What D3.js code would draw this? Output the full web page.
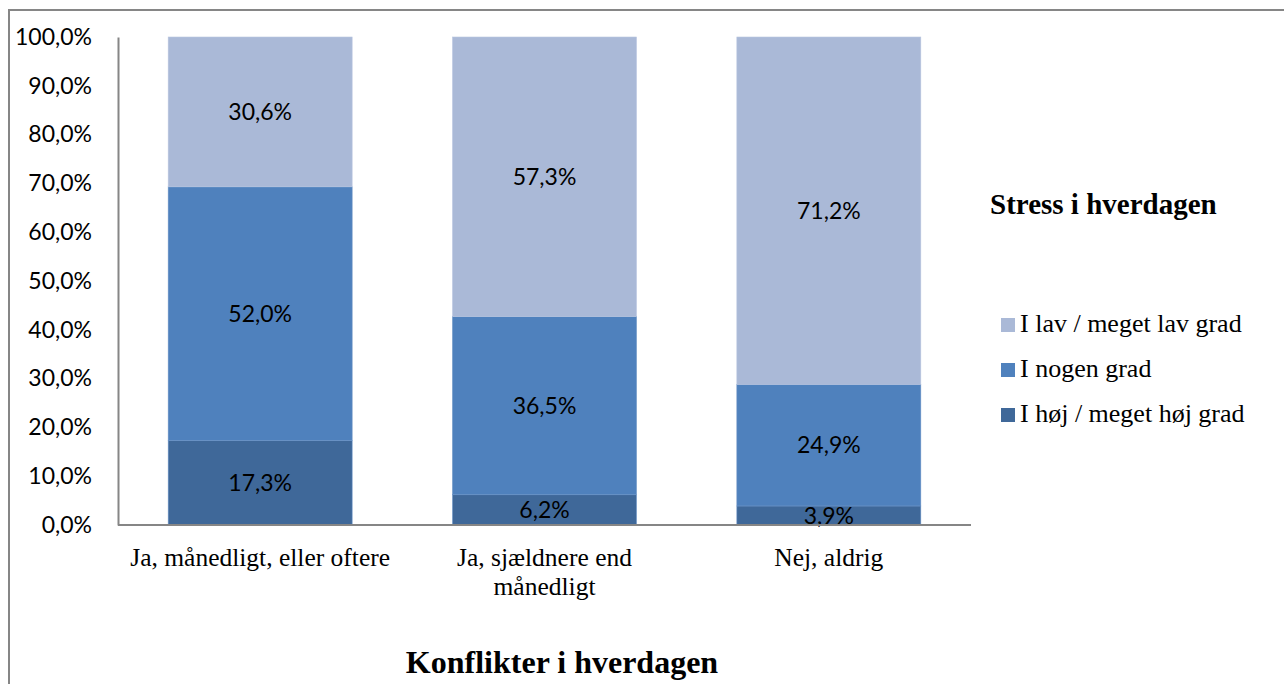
<!DOCTYPE html>
<html><head><meta charset="utf-8">
<script src="https://cdn.jsdelivr.net/npm/d3@7"></script>
<style>body{margin:0;background:#fff}svg{display:block}</style>
</head><body>
<svg id="c" width="1284" height="684"></svg>
<script>
const categories = [["Ja, månedligt, eller oftere"], ["Ja, sjældnere end", "månedligt"], ["Nej, aldrig"]];
const categoryKeys = ["Ja, månedligt, eller oftere", "Ja, sjældnere end månedligt", "Nej, aldrig"];
const seriesNames = ["I høj / meget høj grad", "I nogen grad", "I lav / meget lav grad"];
const seriesHigh = [17.3, 6.2, 3.9];
const seriesSome = [52.0, 36.5, 24.9];
const seriesLow = [30.6, 57.3, 71.2];
const seriesColors = ["#3F6899", "#4F81BD", "#AAB9D7"];
const yTicks = [0,10,20,30,40,50,60,70,80,90,100];

const keys = ["high","some","low"];
const pct = v => d3.format(".1f")(v).replace(".", ",") + "%";
const serif = "'Liberation Serif', 'Times New Roman', serif";
const sans = "Lato, 'Open Sans', sans-serif";

const svg = d3.select("#c");
svg.append("rect").attr("x",9).attr("y",10).attr("width",1300).attr("height",700)
  .attr("fill","none").attr("stroke","#868686").attr("stroke-width",2);

const x0 = 118, x1 = 971, yTop = 37, yBot = 525;
const x = d3.scaleBand().domain(categoryKeys).range([x0, x1]).paddingInner(0.353).paddingOuter(0.1765);
const y = d3.scaleLinear().domain([0,100]).range([yBot, yTop]);

const rows = categoryKeys.map((k,i)=>({key:k, high:seriesHigh[i], some:seriesSome[i], low:seriesLow[i]}));
const stacked = d3.stack().keys(keys)(rows);
// top segment fills to 100%
stacked[2].forEach(d => { d[1] = 100; });

const g = svg.append("g");
stacked.forEach((layer, li) => {
  g.selectAll(null).data(layer).enter().append("rect")
    .attr("x", d => x(d.data.key))
    .attr("y", d => y(d[1]))
    .attr("width", x.bandwidth())
    .attr("height", d => y(d[0]) - y(d[1]))
    .attr("fill", seriesColors[li])
    .attr("stroke", li===2 ? "#b9c6df" : "#6a93c6").attr("stroke-width", 0.6);
});
stacked.forEach((layer, li) => {
  g.selectAll(null).data(layer).enter().append("text")
    .attr("x", d => x(d.data.key) + x.bandwidth()/2)
    .attr("y", d => (y(d[0]) + y(d[1]))/2)
    .attr("dy","0.36em").attr("text-anchor","middle")
    .attr("font-family",sans).attr("font-size",23).attr("fill","#000")
    .text(d => pct(d.data[keys[li]]));
});

// y axis
const yAxis = d3.axisLeft(y).tickValues(yTicks).tickSize(0).tickPadding(26).tickFormat(pct);
const ya = svg.append("g").attr("transform",`translate(${x0},0)`).call(yAxis);
ya.select(".domain").attr("stroke","#868686").attr("stroke-width",2);
ya.selectAll("text").attr("font-family",sans).attr("font-size",23).attr("fill","#000");

// x axis
const xAxis = d3.axisBottom(x).tickSize(0).tickFormat("");
const xa = svg.append("g").attr("transform",`translate(0,${yBot})`).call(xAxis);
xa.select(".domain").attr("stroke","#868686").attr("stroke-width",2).attr("d",`M${x0},0H${x1}`);
categoryKeys.forEach((k,i) => {
  const cx = x(k)+x.bandwidth()/2;
  const t = svg.append("text").attr("x", cx).attr("y",566)
    .attr("text-anchor","middle").attr("font-family",serif)
    .attr("font-size",25.5).attr("fill","#000");
  categories[i].forEach((line,j)=> t.append("tspan").attr("x", cx).attr("dy", j?29:0).text(line));
});

svg.append("text").attr("x",562).attr("y",673).attr("text-anchor","middle")
  .attr("font-family",serif).attr("font-weight","bold")
  .attr("font-size",32).text("Konflikter i hverdagen");

// legend
svg.append("text").attr("x",990).attr("y",214)
  .attr("font-family",serif).attr("font-weight","bold")
  .attr("font-size",29).text("Stress i hverdagen");
[2,1,0].forEach((si, j) => {
  const yy = 332 + j*45;
  svg.append("rect").attr("x",1001).attr("y",yy-14).attr("width",14).attr("height",14).attr("fill",seriesColors[si]);
  svg.append("text").attr("x",1020).attr("y",yy)
    .attr("font-family",serif).attr("font-size",26).text(seriesNames[si]);
});
</script>
</body></html>
